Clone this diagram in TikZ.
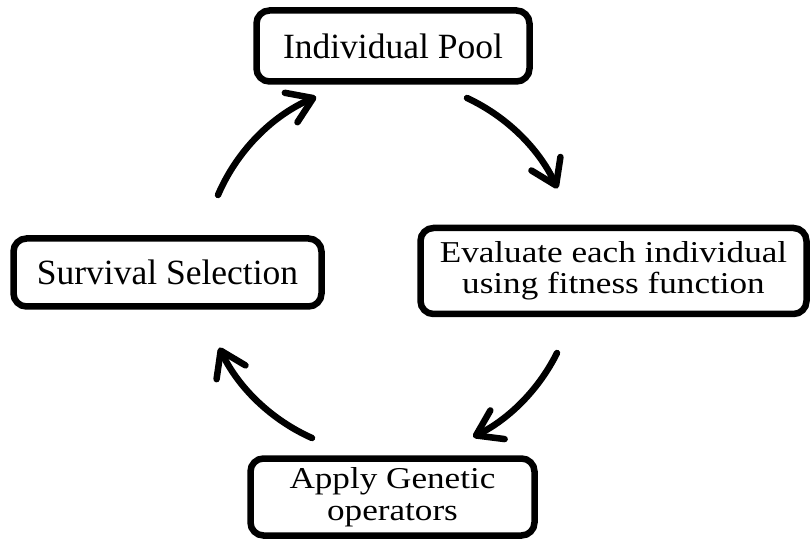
\documentclass[tikz,border=0pt]{standalone}
\usepackage{fontspec}
\setmainfont{Liberation Serif}
\newfontfamily\widefont{Liberation Serif}[FakeStretch=1.16]
\usetikzlibrary{arrows.meta}
\begin{document}
\begin{tikzpicture}[x=1pt,y=1pt,
  stage/.style={draw, line width=6.5pt, rounded corners=13pt, align=center,
    inner sep=0pt, font=\fontsize{35.5}{38}\selectfont},
  widestage/.style={stage, font=\widefont\fontsize{30.3}{31.5}\selectfont},
  flow/.style={line width=6.5pt, line cap=round,
    -{Straight Barb[length=24pt,width=32pt,round]}}]
  \useasboundingbox (0,0) rectangle (812,539);
  % process stages
  \node[stage, minimum width=273pt, minimum height=71pt] (pool) at (393,493) {Individual Pool};
  \node[widestage, minimum width=386pt, minimum height=86pt] (eval) at (613.5,268) {Evaluate each individual\\using fitness function};
  \node[widestage, minimum width=284pt, minimum height=77pt] (apply) at (392.5,42) {Apply Genetic\\operators};
  \node[stage, minimum width=308pt, minimum height=68pt] (surv) at (167.5,266.5) {Survival Selection};
  % curved arrows around the cycle
  \coordinate (s1) at (218,344);
  \coordinate (s2) at (467,441);
  \coordinate (s3) at (557,186);
  \coordinate (s4) at (312,101);
  \draw[flow] (s1) arc[start angle=156.8, end angle=113.2, radius=187];
  \draw[flow] (s2) arc[start angle=65, end angle=25, radius=187];
  \draw[flow] (s3) arc[start angle=-26.5, end angle=-63.5, radius=187];
  \draw[flow] (s4) arc[start angle=-114, end angle=-154.5, radius=187];
\end{tikzpicture}
\end{document}
